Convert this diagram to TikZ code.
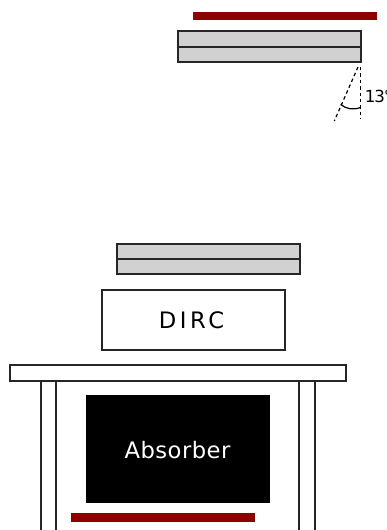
\documentclass[tikz,border=0pt]{standalone}
\usepackage{fontspec}
\setmainfont{DejaVu Sans}
\tikzset{
    main_line/.style = {
        draw=black!85,
        line width=1.5pt
    },
    gray_bar/.style = {
        main_line,
        fill=black!18
    },
    red_bar/.style = {
        fill=red!55!black
    },
    back_line/.style = {
        draw=black,
        line width=0.9pt,
        dashed,
        dash pattern=on 2.6pt off 2.2pt
    },
    label_text/.style = {
        inner sep=0pt,
        font=\fontsize{17}{20}\selectfont
    },
}
\begin{document}
\begin{tikzpicture}[x=0.75pt,y=-0.75pt]
    \useasboundingbox (0,0) rectangle (386,530);
    \begin{scope}
        \path[red_bar] (192.5, 11.7) rectangle (376.7, 20.5);
        \path[gray_bar] (178, 31) rectangle (361, 62);
        \path[main_line] (178, 47) -- (361, 47);
    \end{scope}
    \coordinate (apex_a) at (358, 67);
    \coordinate (apex_b) at (360.5, 67);
    \coordinate (end_a) at (334.3, 121);
    \coordinate (end_b) at (360.5, 119);
    \draw[back_line] (apex_a) -- (end_a);
    \draw[back_line] (apex_b) -- (end_b);
    \draw[line width=0.9pt] (340.7, 104.3) to[bend right, looseness=1.0] (360.3, 107.5);
    \node[inner sep=0pt, anchor=west, font=\fontsize{12.5}{15}\selectfont] (angle_label) at (364.5, 96) {\addfontfeature{LetterSpace=-6}13°};

    \begin{scope}
        \path[gray_bar] (117, 244) rectangle (300, 274);
        \path[main_line] (117, 259) -- (300, 259);
        \path[main_line, fill=white] (102, 290) rectangle (285, 350);
        \node[label_text] (dirc_label) at (191.5, 320) {\addfontfeature{LetterSpace=16}DIRC};
    \end{scope}

    \begin{scope}
        \path[main_line] (41, 381) -- (41, 531);
        \path[main_line] (56, 381) -- (56, 531);
        \path[main_line] (299, 381) -- (299, 531);
        \path[main_line] (315, 381) -- (315, 531);
        \path[main_line, fill=white] (10, 365) rectangle (346, 381);
        \path[fill=black] (85.7, 395) rectangle (270, 502.7);
        \node[label_text, text=white, anchor=base] (absorber_label) at (177.5, 458) {\addfontfeature{LetterSpace=2}Absorber};
        \path[red_bar] (70.7, 513) rectangle (254.7, 522);
    \end{scope}
\end{tikzpicture}
\end{document}
